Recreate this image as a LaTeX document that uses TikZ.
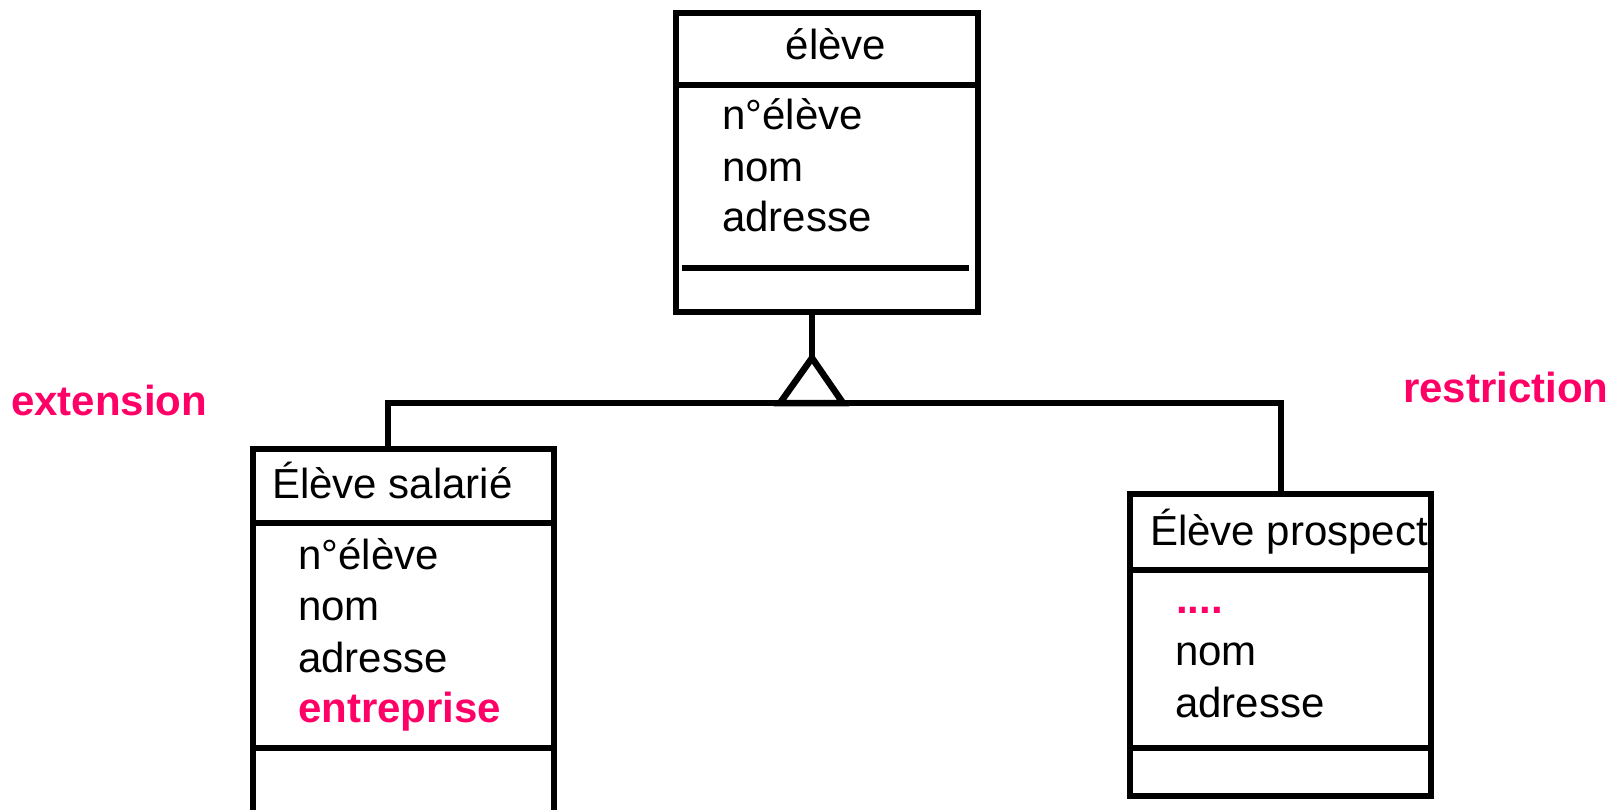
\documentclass[tikz,border=0pt]{standalone}
\usepackage{fontspec}
\setmainfont{Liberation Sans}
\definecolor{pk}{HTML}{FF0066}
\begin{document}
\begin{tikzpicture}[x=1pt,y=-1pt,line width=6.5pt,
  box/.style={draw,line width=6.5pt,anchor=north west,inner sep=0pt,outer sep=0pt},
  txt/.style={anchor=base west,inner sep=0pt,font=\fontsize{42}{50}\selectfont},
  pkb/.style={anchor=base west,inner sep=0pt,text=pk,font=\fontsize{42}{50}\selectfont\bfseries}]
\useasboundingbox (0,0) rectangle (1619,810);
\clip (0,0) rectangle (1619,810);
% texts
\node[txt,anchor=base] (t0) at (836,60) {élève};
\node[txt] (t1) at (719,130) {n°élève};
\node[txt] (t2) at (719,182) {nom};
\node[txt] (t3) at (719,232) {adresse};
\node[txt] (s0) at (269,498) {Élève salarié};
\node[txt] (s1) at (295,569) {n°élève};
\node[txt] (s2) at (295,620) {nom};
\node[txt] (s3) at (295,672) {adresse};
\node[pkb] (s4) at (295,722) {entreprise};
\node[txt] (p0) at (1147,545) {Élève prospect};
\node[pkb] (p1) at (1173,613) {....};
\node[txt] (p2) at (1172,665) {nom};
\node[txt] (p3) at (1172,717) {adresse};
\node[pkb] (ext) at (8,415) {extension};
\node[pkb] (res) at (1400,402) {restriction};
% boxes
\node[box,minimum width=302pt,minimum height=299pt] (top) at (676,13) {};
\draw (676,85) -- (978,85);
\draw (682,268) -- (969,268);
\node[box,minimum width=301pt,minimum height=380pt] (sal) at (253,449) {};
\draw (250,523) -- (554,523);
\draw (250,748) -- (554,748);
\node[box,minimum width=301pt,minimum height=302pt] (pro) at (1130,494) {};
\draw (1130,570) -- (1431,570);
\draw (1130,748) -- (1431,748);
% connectors
\coordinate (apex) at (812,358);
\coordinate (hl) at (388,403);
\coordinate (hr) at (1281,403);
\draw (top.south -| apex) -- (apex);
\draw[line join=miter] (apex) -- (780,403) -- (843,403) -- cycle;
\draw (sal.north -| hl) -- (hl) -- (hr) -- (pro.north -| hr);
\end{tikzpicture}
\end{document}
